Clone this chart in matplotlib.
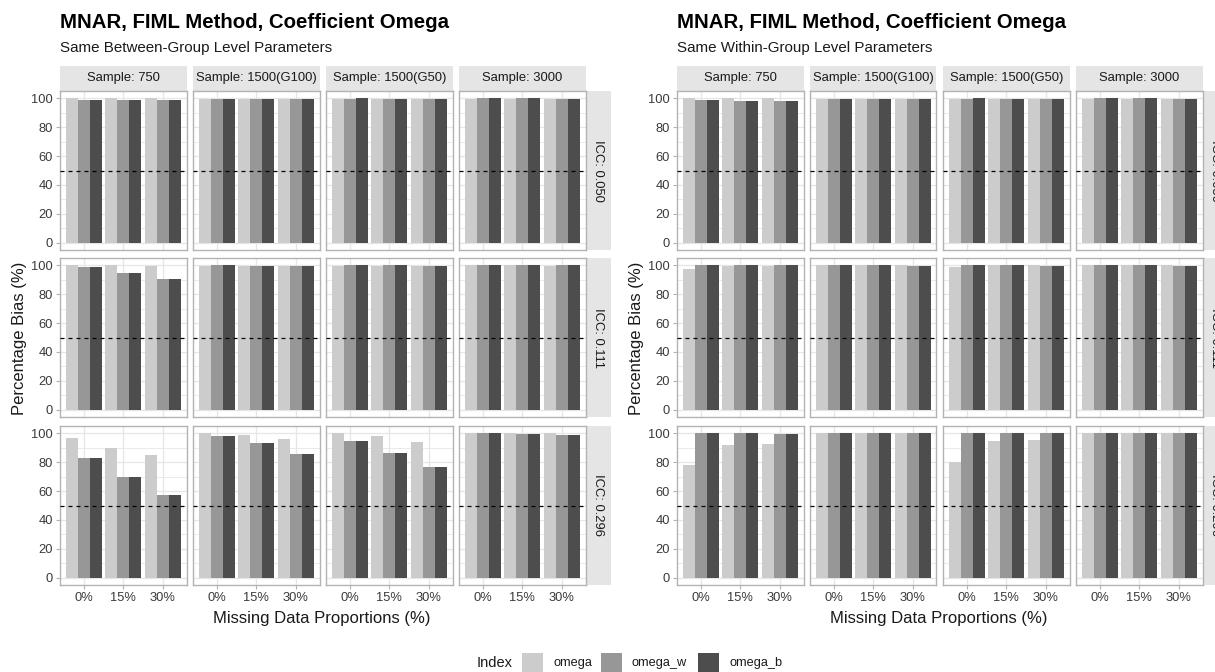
import matplotlib
matplotlib.use("Agg")
import matplotlib.pyplot as plt
from matplotlib.patches import Rectangle
import numpy as np

plt.rcParams['font.family'] = ['Liberation Sans', 'DejaVu Sans']

# ---------------------------------------------------------------- data
samples = ["Sample: 750", "Sample: 1500(G100)", "Sample: 1500(G50)", "Sample: 3000"]
iccs = ["ICC: 0.050", "ICC: 0.111", "ICC: 0.296"]
missing = ["0%", "15%", "30%"]
indices = ["omega", "omega_w", "omega_b"]
index_colors = ["#CCCCCC", "#979797", "#4D4D4D"]

# values[icc][sample] -> one value per missing-data proportion
between_omega = [
    [[99.9, 99.9, 99.9], [99.6, 99.6, 99.6], [99.7, 99.7, 99.7], [99.7, 99.7, 99.7]],
    [[100.0, 100.0, 99.8], [99.7, 99.7, 99.7], [99.8, 99.8, 99.8], [100.0, 100.0, 99.8]],
    [[96.8, 89.6, 84.6], [100.2, 99.1, 96.1], [100.0, 98.4, 94.2], [100.0, 100.0, 100.0]],
]
between_omega_w = [
    [[98.8, 98.7, 98.6], [99.5, 99.6, 99.6], [99.7, 99.3, 99.3], [100.0, 99.9, 99.3]],
    [[98.8, 94.5, 90.2], [100.0, 99.5, 99.5], [100.0, 100.0, 99.4], [100.0, 100.0, 100.0]],
    [[82.9, 70.0, 57.6], [98.4, 93.3, 85.5], [94.7, 86.2, 76.7], [100.5, 99.8, 98.6]],
]
between_omega_b = [
    [[98.8, 98.7, 98.6], [99.6, 99.6, 99.6], [100.0, 99.3, 99.3], [100.0, 99.9, 99.3]],
    [[98.8, 94.5, 90.2], [100.2, 99.5, 99.5], [100.0, 100.0, 99.4], [100.0, 100.0, 100.0]],
    [[82.9, 70.0, 57.6], [98.4, 93.3, 85.5], [94.7, 86.2, 76.7], [100.5, 99.8, 98.6]],
]

within_omega = [
    [[99.9, 99.9, 99.9], [99.6, 99.6, 99.6], [99.7, 99.7, 99.7], [99.7, 99.7, 99.7]],
    [[97.2, 99.3, 99.3], [100.0, 100.0, 100.0], [98.8, 100.0, 100.0], [100.0, 100.0, 100.0]],
    [[77.8, 91.7, 92.4], [100.0, 100.0, 100.0], [79.9, 94.5, 95.2], [100.0, 100.0, 100.0]],
]
within_omega_w = [
    [[98.5, 98.3, 98.3], [99.5, 99.6, 99.6], [99.7, 99.3, 99.3], [100.0, 99.9, 99.3]],
    [[100.0, 100.0, 100.0], [100.0, 100.0, 99.5], [100.0, 100.0, 99.4], [100.0, 100.0, 99.4]],
    [[100.0, 100.0, 99.8], [100.0, 100.0, 100.0], [100.0, 100.0, 100.0], [100.0, 100.0, 100.0]],
]
within_omega_b = [
    [[98.5, 98.3, 98.3], [99.6, 99.6, 99.6], [100.0, 99.3, 99.3], [100.0, 99.9, 99.3]],
    [[100.0, 100.0, 100.0], [100.0, 100.0, 99.5], [100.0, 100.0, 99.4], [100.0, 100.0, 99.4]],
    [[100.0, 100.0, 99.8], [100.0, 100.0, 100.0], [100.0, 100.0, 100.0], [100.0, 100.0, 100.0]],
]

panels = [
    ("MNAR, FIML Method, Coefficient Omega", "Same Between-Group Level Parameters",
     [between_omega, between_omega_w, between_omega_b]),
    ("MNAR, FIML Method, Coefficient Omega", "Same Within-Group Level Parameters",
     [within_omega, within_omega_w, within_omega_b]),
]

# ---------------------------------------------------------------- layout (pixels)
W, H = 1215, 672
fig = plt.figure(figsize=(W / 100, H / 100), dpi=100)
fig.patch.set_facecolor("white")


def rect(x, y, w, h):
    return [x / W, 1 - (y + h) / H, w / W, h / H]


def fxy(x, y):
    return x / W, 1 - y / H


col_left = [60, 193, 326, 459]
col_w = 126.5
row_top = [91, 258, 426]
row_h = 159
strip_h = 25
strip_top = 66
panel_offset = 617

border_c = "#B3B3B3"
grid_c = "#E6E6E6"
strip_c = "#E5E5E5"
text_c = "#1A1A1A"
tick_c = "#3A3A3A"

x = np.arange(1, len(missing) + 1)
bar_w = 0.3
offsets = [-0.3, 0.0, 0.3]

for p, (title, subtitle, series) in enumerate(panels):
    dx = p * panel_offset
    tx, ty = fxy(60 + dx, 23)
    fig.text(tx, ty, title, fontsize=14.7, fontweight="bold", color="black",
             ha="left", va="center")
    tx, ty = fxy(60 + dx, 48)
    fig.text(tx, ty, subtitle, fontsize=10.9, color=text_c, ha="left", va="center")

    # column strips
    for c, lab in enumerate(samples):
        sax = fig.add_axes(rect(col_left[c] + dx, strip_top, col_w, strip_h))
        sax.set_facecolor(strip_c)
        sax.set_xticks([]); sax.set_yticks([])
        for s in sax.spines.values():
            s.set_visible(False)
        sax.text(0.5, 0.5, lab, transform=sax.transAxes, ha="center", va="center",
                 fontsize=9.4, color=text_c)

    # row strips
    for r, lab in enumerate(iccs):
        sax = fig.add_axes(rect(col_left[3] + col_w + dx, row_top[r], 25, row_h))
        sax.set_facecolor(strip_c)
        sax.set_xticks([]); sax.set_yticks([])
        for s in sax.spines.values():
            s.set_visible(False)
        sax.text(0.5, 0.5, lab, transform=sax.transAxes, ha="center", va="center",
                 fontsize=9.4, color=text_c, rotation=-90)

    for r in range(len(iccs)):
        for c in range(len(samples)):
            ax = fig.add_axes(rect(col_left[c] + dx, row_top[r], col_w, row_h))
            ax.set_axisbelow(True)
            for k, vals in enumerate(series):
                ax.bar(x + offsets[k], vals[r][c], width=bar_w,
                       color=index_colors[k], edgecolor="none", zorder=2)
            ax.axhline(50, color="black", lw=0.9, ls=(0, (3.2, 3.2)), zorder=3)
            ax.set_xlim(0.4, 3.6)
            ax.set_ylim(-5, 105)
            ax.set_xticks(x)
            ax.set_xticklabels(missing)
            ax.set_yticks(np.arange(0, 101, 20))
            ax.set_yticks(np.arange(10, 100, 20), minor=True)
            ax.grid(which="major", color=grid_c, lw=0.9, zorder=0)
            ax.grid(which="minor", axis="y", color=grid_c, lw=0.6, zorder=0)
            for s in ax.spines.values():
                s.set_color(border_c)
                s.set_linewidth(1.0)
            ax.tick_params(which="minor", length=0)
            ax.tick_params(which="major", length=3, width=0.8, color=border_c,
                           labelcolor=tick_c, labelsize=9.3, pad=2)
            if c != 0:
                ax.tick_params(axis="y", left=False, labelleft=False)
            if r != len(iccs) - 1:
                ax.tick_params(axis="x", bottom=False, labelbottom=False)

    tx, ty = fxy(20 + dx, 338)
    fig.text(tx, ty, "Percentage Bias (%)", rotation=90, fontsize=12,
             color=text_c, ha="center", va="center")
    tx, ty = fxy(322 + dx, 618)
    fig.text(tx, ty, "Missing Data Proportions (%)", fontsize=12,
             color=text_c, ha="center", va="center")

# ---------------------------------------------------------------- legend
tx, ty = fxy(477, 663)
fig.text(tx, ty, "Index", fontsize=10.5, color=text_c, ha="left", va="center")
key_x = [522, 601, 698]
label_x = [553, 632, 729]
for k, name in enumerate(indices):
    fig.patches.append(Rectangle(fxy(key_x[k], 674), 21 / W, 21 / H,
                                 transform=fig.transFigure, facecolor=index_colors[k],
                                 edgecolor="none"))
    tx, ty = fxy(label_x[k], 663)
    fig.text(tx, ty, name, fontsize=9.2, color=text_c, ha="left", va="center")

fig.savefig("out.png", dpi=100)
